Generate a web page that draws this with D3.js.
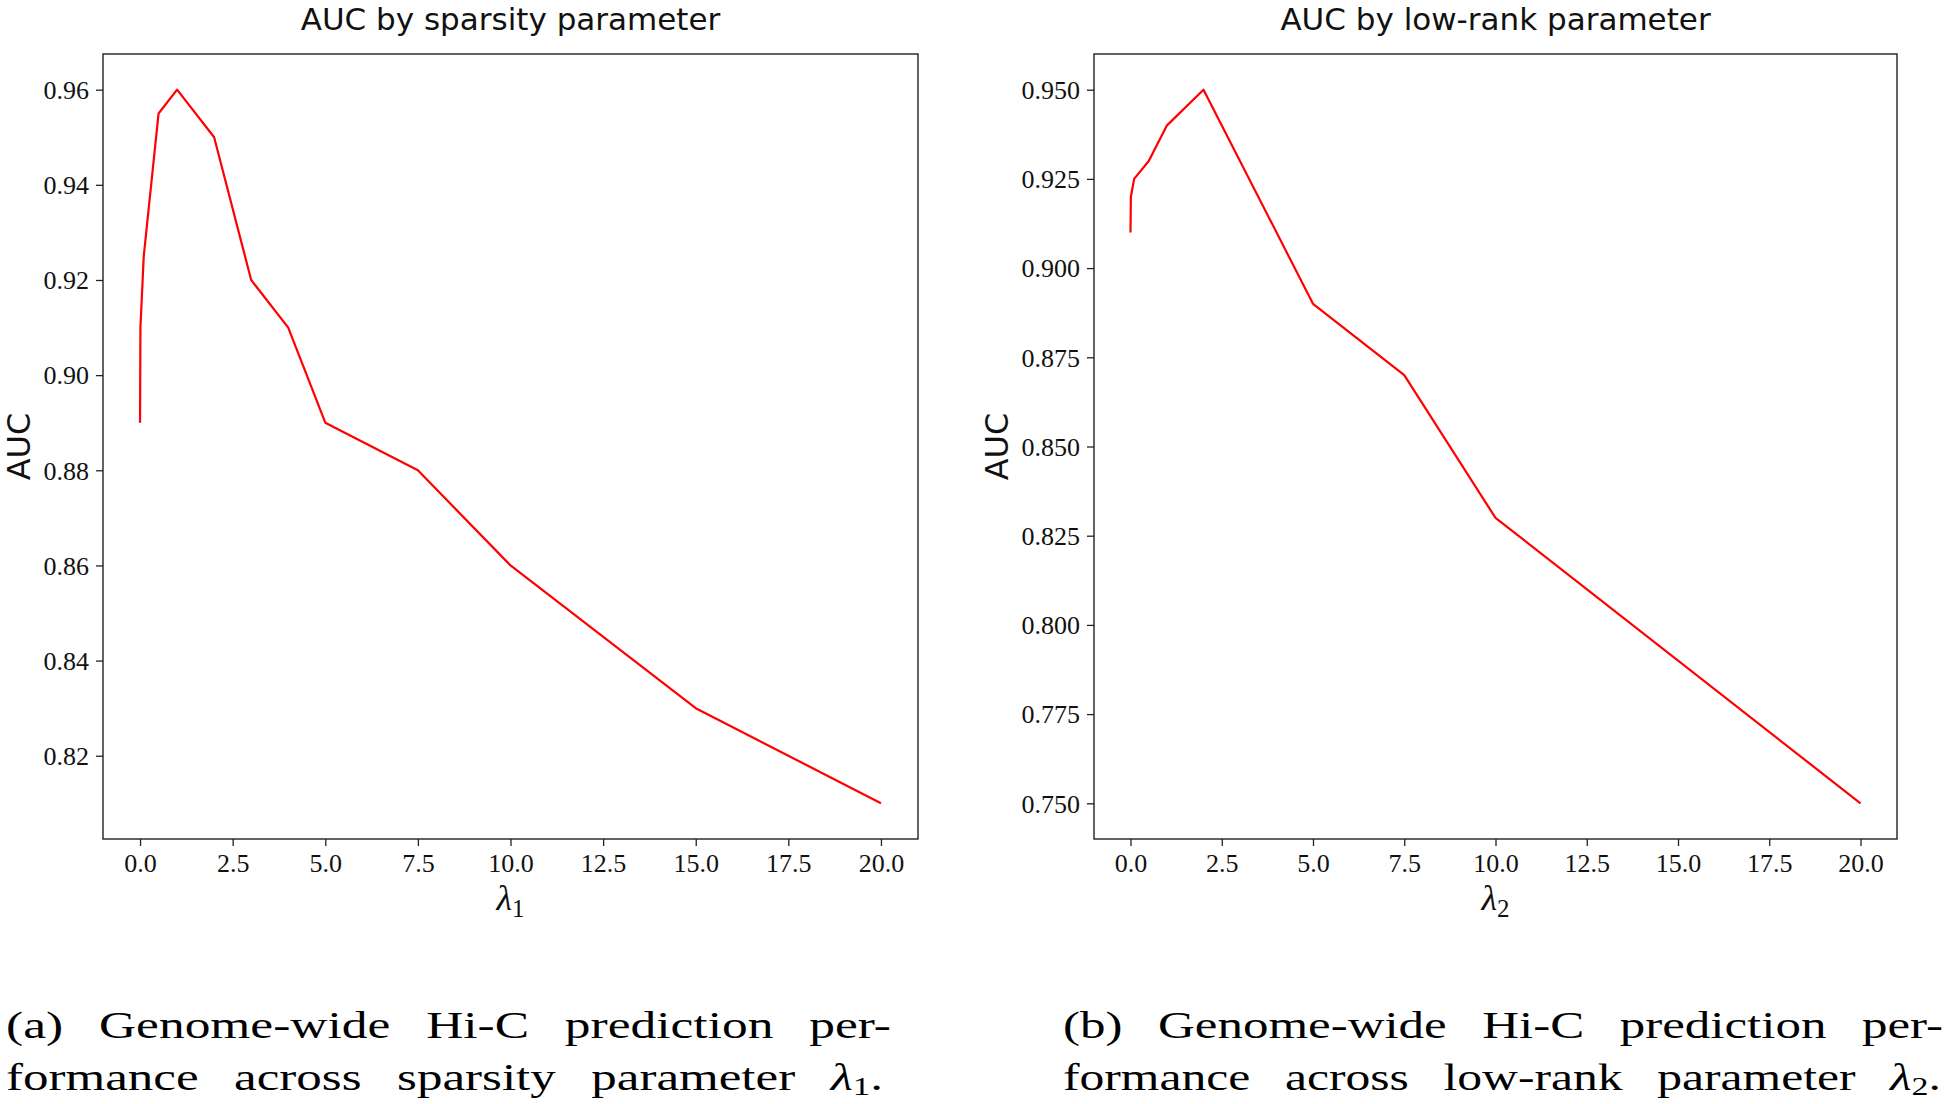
<!DOCTYPE html>
<html>
<head>
<meta charset="utf-8">
<script src="https://cdn.jsdelivr.net/npm/d3@7"></script>
<style>
  html, body { margin: 0; padding: 0; background: #fff; }
  svg { display: block; }
</style>
</head>
<body>
<svg id="chart" width="1945" height="1104"></svg>
<script>
// ---- data ----
const lambda1 = [0, 0.01, 0.1, 0.5, 1, 2, 3, 4, 5, 7.5, 10, 15, 20];
const aucSparsity = [0.89, 0.91, 0.925, 0.955, 0.96, 0.95, 0.92, 0.91, 0.89, 0.88, 0.86, 0.83, 0.81];

const lambda2 = [0, 0.01, 0.1, 0.5, 1, 2, 5, 7.5, 10, 20];
const aucLowRank = [0.91, 0.92, 0.925, 0.93, 0.94, 0.95, 0.89, 0.87, 0.83, 0.75];

const xTicks = [0, 2.5, 5, 7.5, 10, 12.5, 15, 17.5, 20];
const yTicksSparsity = [0.82, 0.84, 0.86, 0.88, 0.90, 0.92, 0.94, 0.96];
const yTicksLowRank = [0.750, 0.775, 0.800, 0.825, 0.850, 0.875, 0.900, 0.925, 0.950];

const titles = ["AUC by sparsity parameter", "AUC by low-rank parameter"];
const yLabel = "AUC";
const xLabelSubs = ["1", "2"];
const captionLines = [
  ["(a) Genome-wide Hi-C prediction per-", "formance across sparsity parameter "],
  ["(b) Genome-wide Hi-C prediction per-", "formance across low-rank parameter "]
];

// ---- layout ----
const svg = d3.select("#chart");
const panels = [
  { x: lambda1, y: aucSparsity, yTicks: yTicksSparsity, fmt: d3.format(".2f"),
    left: 103, right: 918, top: 54, bottom: 839,
    capLeft: 6, capW1: 885, capW2: 877 },
  { x: lambda2, y: aucLowRank, yTicks: yTicksLowRank, fmt: d3.format(".3f"),
    left: 1094, right: 1897, top: 54, bottom: 839,
    capLeft: 1063, capW1: 880, capW2: 878 }
];

const sansFont = "'DejaVu Sans', sans-serif";
const serifFont = "'Liberation Serif', 'DejaVu Serif', serif";

panels.forEach((p, i) => {
  const xmin = d3.min(p.x), xmax = d3.max(p.x);
  const ymin = d3.min(p.y), ymax = d3.max(p.y);
  const xm = (xmax - xmin) * 0.05, ym = (ymax - ymin) * 0.05;
  const x = d3.scaleLinear().domain([xmin - xm, xmax + xm]).range([p.left, p.right]);
  const y = d3.scaleLinear().domain([ymin - ym, ymax + ym]).range([p.bottom, p.top]);

  const g = svg.append("g");

  const xAxis = g.append("g")
    .attr("transform", `translate(0,${p.bottom})`)
    .call(d3.axisBottom(x).tickValues(xTicks).tickFormat(d3.format(".1f")).tickSize(7).tickPadding(6).tickSizeOuter(0));
  const yAxis = g.append("g")
    .attr("transform", `translate(${p.left},0)`)
    .call(d3.axisLeft(y).tickValues(p.yTicks).tickFormat(p.fmt).tickSize(7).tickPadding(7).tickSizeOuter(0));

  [xAxis, yAxis].forEach(a => {
    a.select(".domain").remove();
    a.selectAll(".tick line").attr("stroke", "#222").attr("stroke-width", 1.3);
    a.selectAll(".tick text")
      .attr("fill", "#111")
      .style("font-family", serifFont)
      .style("font-size", "26px");
  });
  xAxis.selectAll(".tick text").attr("dy", "0.75em");
  yAxis.selectAll(".tick text").attr("dy", "0.34em");

  g.append("rect")
    .attr("x", p.left).attr("y", p.top)
    .attr("width", p.right - p.left).attr("height", p.bottom - p.top)
    .attr("fill", "none").attr("stroke", "#222").attr("stroke-width", 1.4);

  const pts = p.x.map((d, k) => [d, p.y[k]]);
  g.append("path")
    .datum(pts)
    .attr("fill", "none")
    .attr("stroke", "#ff0000")
    .attr("stroke-width", 2.2)
    .attr("stroke-linejoin", "round")
    .attr("d", d3.line().x(d => x(d[0])).y(d => y(d[1])));

  const cx = (p.left + p.right) / 2;
  const cy = (p.top + p.bottom) / 2;

  g.append("text")
    .attr("x", cx).attr("y", 30)
    .attr("text-anchor", "middle")
    .style("font-family", sansFont).style("font-size", "31px").attr("fill", "#111")
    .text(titles[i]);

  let minX = Infinity;
  yAxis.selectAll(".tick text").each(function () {
    const b = this.getBBox();
    const ctm = this.getCTM();
    minX = Math.min(minX, b.x + ctm.e);
  });
  const ylx = minX - 14;
  g.append("text")
    .attr("transform", `translate(${ylx},${cy}) rotate(-90)`)
    .attr("text-anchor", "middle")
    .style("font-family", sansFont).style("font-size", "32px").attr("fill", "#111")
    .text(yLabel);

  const xl = g.append("text")
    .attr("x", cx).attr("y", 910)
    .attr("text-anchor", "middle")
    .style("font-family", serifFont).attr("fill", "#111");
  xl.append("tspan").style("font-style", "italic").style("font-size", "36px").text("λ");
  xl.append("tspan").style("font-size", "25px").attr("dy", 7).text(xLabelSubs[i]);

  // captions (justified: wide word gaps, fitted to the reference widths)
  const lineYs = [1038, 1090];
  captionLines[i].forEach((txt, li) => {
    const t = svg.append("text")
      .attr("x", p.capLeft).attr("y", lineYs[li])
      .style("font-family", serifFont).style("font-size", "38px").attr("fill", "#000")
      .style("word-spacing", "17px")
      .style("white-space", "pre");
    t.append("tspan").text(txt);
    if (li === 1) {
      t.append("tspan").style("font-style", "italic").text("λ");
      t.append("tspan").style("font-size", "26px").attr("dy", 5).text(xLabelSubs[i]);
      t.append("tspan").attr("dy", -5).text(".");
    }
    const target = li === 0 ? p.capW1 : p.capW2;
    t.attr("textLength", target).attr("lengthAdjust", "spacingAndGlyphs");
  });
});
</script>
</body>
</html>
